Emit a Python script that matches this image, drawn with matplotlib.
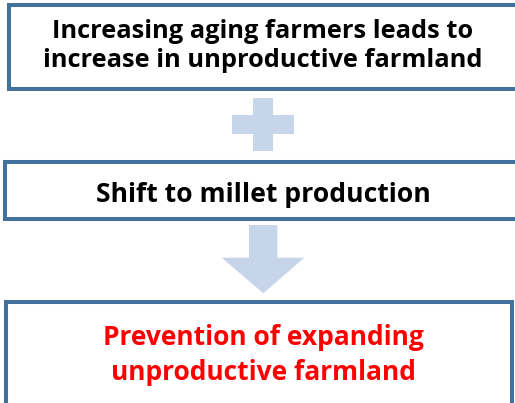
import matplotlib.pyplot as plt
from matplotlib.patches import Rectangle, Polygon

# flow chart text (top to bottom)
box_lines = [
    ["Increasing aging farmers leads to", "increase in unproductive farmland"],
    ["Shift to millet production"],
    ["Prevention of expanding", "unproductive farmland"],
]
box_colors = ["black", "black", "#FF0000"]

edge = "#41719C"
fill = "#C6D5EA"

fig = plt.figure(figsize=(5.15, 4.03), dpi=100)
ax = fig.add_axes([0, 0, 1, 1])
ax.set_xlim(0, 515)
ax.set_ylim(403, 0)
ax.axis("off")

# boxes: (x0, y0, x1, y1) in pixel space
boxes = [(9, 5, 530, 88.5), (4.7, 162, 530, 219), (6, 301.5, 512, 420)]
baselines = [[38.3, 66.7], [201.7], [345, 380]]
first_width = [420, 335, 323]   # pixel width of first line in each box

renderer = fig.canvas.get_renderer()
for (x0, y0, x1, y1), lines, col, bl, w in zip(boxes, box_lines, box_colors, baselines, first_width):
    ax.add_patch(Rectangle((x0, y0), x1 - x0, y1 - y0, facecolor="white",
                           edgecolor=edge, lw=2.9, clip_on=True))
    texts = [ax.text(263, y, txt, ha="center", va="baseline", color=col,
                     fontsize=18, fontweight="bold", family="Open Sans")
             for txt, y in zip(lines, bl)]
    # scale font so the first line matches the reference width
    cur = texts[0].get_window_extent(renderer).width
    for t in texts:
        t.set_fontsize(18 * w / cur)

# plus sign
ax.add_patch(Rectangle((253.3, 97.7), 19.4, 53.3, facecolor=fill, edgecolor="none"))
ax.add_patch(Rectangle((232, 115), 62, 19, facecolor=fill, edgecolor="none"))

# down arrow
arrow = [(249, 225), (277.3, 225), (277.3, 257.7), (304.3, 257.7),
         (263.3, 293.3), (221.7, 257.7), (249, 257.7)]
ax.add_patch(Polygon(arrow, closed=True, facecolor=fill, edgecolor="none"))

fig.savefig("out.png", dpi=100)
